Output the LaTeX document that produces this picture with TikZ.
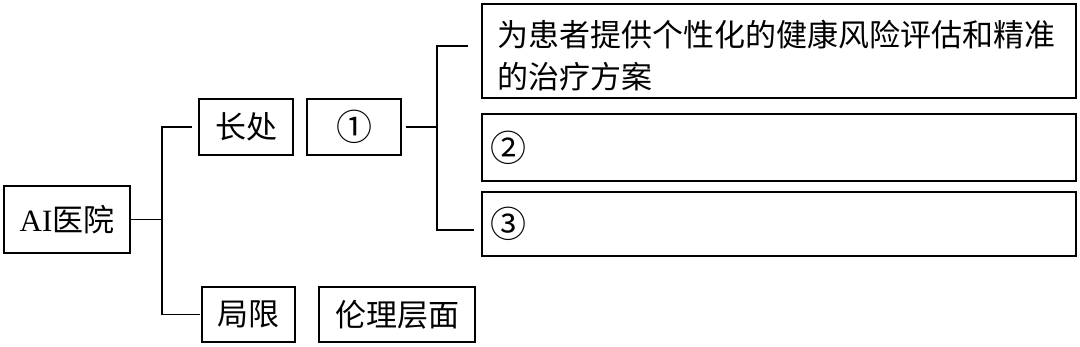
\documentclass[tikz,border=0pt]{standalone}
\usepackage{fontspec}
\setmainfont{Liberation Serif}
\newfontfamily\cjk{Noto Sans CJK SC}
\newcommand{\circnum}[1]{{\fontsize{36}{41}\selectfont #1}}
\begin{document}
\begin{tikzpicture}[x=1pt,y=1pt,
  box/.style={draw, line width=1.4pt, inner sep=0pt, font=\fontsize{31}{42}\selectfont},
  wire/.style={line width=1.6pt}]
\useasboundingbox (0,0) rectangle (1080,347);
\fill[white] (0,0) rectangle (1080,347);
\node[box, minimum width=126pt, minimum height=67pt] (ai) at (67,127.5) {AI{\cjk 医院}};
\node[box, minimum width=94pt, minimum height=56pt] (cc) at (246,220) {\cjk 长处};
\node[box, minimum width=94pt, minimum height=56pt] (c1) at (354,220) {\cjk \circnum{①}};
\node[box, minimum width=93pt, minimum height=55pt] (jx) at (248.5,32.5) {\cjk 局限};
\node[box, minimum width=156pt, minimum height=55pt] (ll) at (397,32.5) {\cjk 伦理层面};
\node[box, minimum width=594pt, minimum height=94pt, text width=564pt, inner xsep=15pt, align=left] (t1) at (779,296)
  {\cjk \rule{0pt}{36pt}为患者提供个性化的健康风险评估和精准\\的治疗方案};
\node[box, minimum width=594pt, minimum height=67pt, text width=578pt, inner xsep=8pt, align=left] (t2) at (779,199.5) {\cjk \circnum{②}};
\node[box, minimum width=594pt, minimum height=64pt, text width=578pt, inner xsep=8pt, align=left] (t3) at (779,123) {\cjk \circnum{③}};
\coordinate (j1) at (162,127.5);
\coordinate (j2) at (437,220);
\draw[wire] (ai.east) -- (j1);
\draw[wire, shorten >=6pt] (j1) |- (cc.west);
\draw[wire, shorten >=1pt] (j1) |- (jx.west);
\draw[wire, shorten <=4pt] (c1.east) -- (j2);
\draw[wire, shorten >=13pt] (j2) |- ([yshift=5pt]t1.west);
\draw[wire, shorten >=7pt] (j2) |- ([yshift=-6pt]t3.west);
\end{tikzpicture}
\end{document}
